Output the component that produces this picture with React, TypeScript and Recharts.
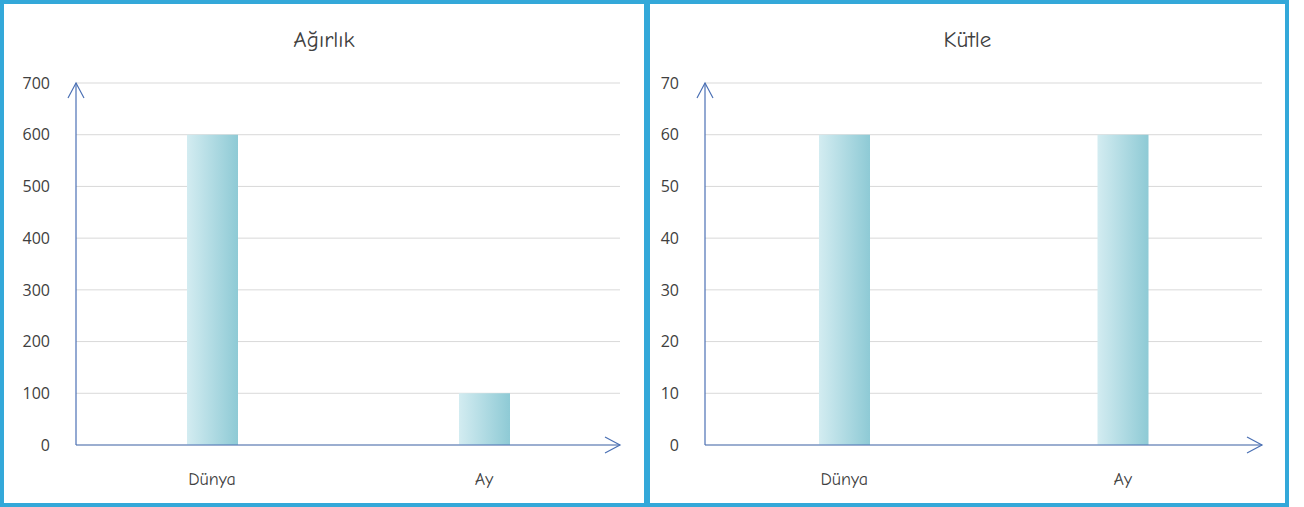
import React from 'react';
import { BarChart, Bar, XAxis, YAxis, CartesianGrid, usePlotArea } from 'recharts';

const categories = ['Dünya', 'Ay'];
const weightValues = [600, 100];
const massValues = [60, 60];
const weightTicks = [0, 100, 200, 300, 400, 500, 600, 700];
const massTicks = [0, 10, 20, 30, 40, 50, 60, 70];
const weightTitle = 'Ağırlık';
const massTitle = 'Kütle';

const AXIS = '#4b70b4';
const BORDER = '#33a8d9';
const TEXT_FONT = '"Comic Sans MS", "Comic Neue", Lato, "Open Sans", sans-serif';

function Arrows() {
  const area = usePlotArea();
  if (!area) return null;
  const { x, y, width, height } = area;
  const bx = x + width;
  const by = y + height;
  return (
    <g fill="none" stroke={AXIS} strokeWidth={1.2}>
      <path d={`M${x - 8},${y + 15} L${x},${y} L${x + 8},${y + 15}`} />
      <path d={`M${bx - 15},${by - 8} L${bx},${by} L${bx - 15},${by + 8}`} />
    </g>
  );
}

type PanelProps = {
  left: number;
  width: number;
  title: string;
  values: number[];
  ticks: number[];
  yWidth: number;
  mLeft: number;
  mRight: number;
  gid: string;
};

function Panel({ left, width, title, values, ticks, yWidth, mLeft, mRight, gid }: PanelProps) {
  const data = categories.map((c, i) => ({ name: c, value: values[i] }));
  return (
    <div style={{ position: 'absolute', left, top: 0, width, height: 507 }}>
      <BarChart
        width={width}
        height={507}
        data={data}
        margin={{ top: 83, right: mRight, bottom: 22, left: mLeft }}
      >
        <defs>
          <linearGradient id={gid} x1="0" y1="0" x2="1" y2="0">
            <stop offset="0%" stopColor="#d3ecf1" />
            <stop offset="100%" stopColor="#8ecad5" />
          </linearGradient>
        </defs>
        <CartesianGrid vertical={false} stroke="#d9d9d9" />
        <XAxis
          dataKey="name"
          height={40}
          axisLine={{ stroke: AXIS, strokeWidth: 1.2 }}
          tickLine={false}
          tickMargin={21}
          tick={{ fill: '#404040', fontSize: 18, fontFamily: TEXT_FONT }}
        />
        <YAxis
          width={yWidth}
          domain={[ticks[0], ticks[ticks.length - 1]]}
          ticks={ticks}
          interval={0}
          axisLine={{ stroke: AXIS, strokeWidth: 1.2 }}
          tickLine={false}
          tickMargin={20}
          tick={{ fill: '#404040', fontSize: 16, fontFamily: '"Open Sans", Lato, sans-serif' }}
        />
        <Bar dataKey="value" fill={`url(#${gid})`} barSize={51} isAnimationActive={false} />
        <Arrows />
      </BarChart>
      <div
        style={{
          position: 'absolute',
          left: 0,
          top: 25,
          width,
          textAlign: 'center',
          fontFamily: TEXT_FONT,
          fontSize: 23,
          color: '#404040',
          lineHeight: '30px',
        }}
      >
        {title}
      </div>
      <div
        style={{
          position: 'absolute',
          left: 0,
          top: 0,
          width,
          height: 507,
          boxSizing: 'border-box',
          border: `4px solid ${BORDER}`,
          pointerEvents: 'none',
        }}
      />
    </div>
  );
}

export default function App() {
  return (
    <div style={{ position: 'absolute', left: 0, top: 0, width: 1304, height: 507, background: '#fff' }}>
      <Panel left={0} width={648} title={weightTitle} values={weightValues} ticks={weightTicks} yWidth={60} mLeft={16} mRight={28} gid="gw" />
      <Panel left={646} width={643} title={massTitle} values={massValues} ticks={massTicks} yWidth={45} mLeft={14} mRight={27} gid="gm" />
    </div>
  );
}
